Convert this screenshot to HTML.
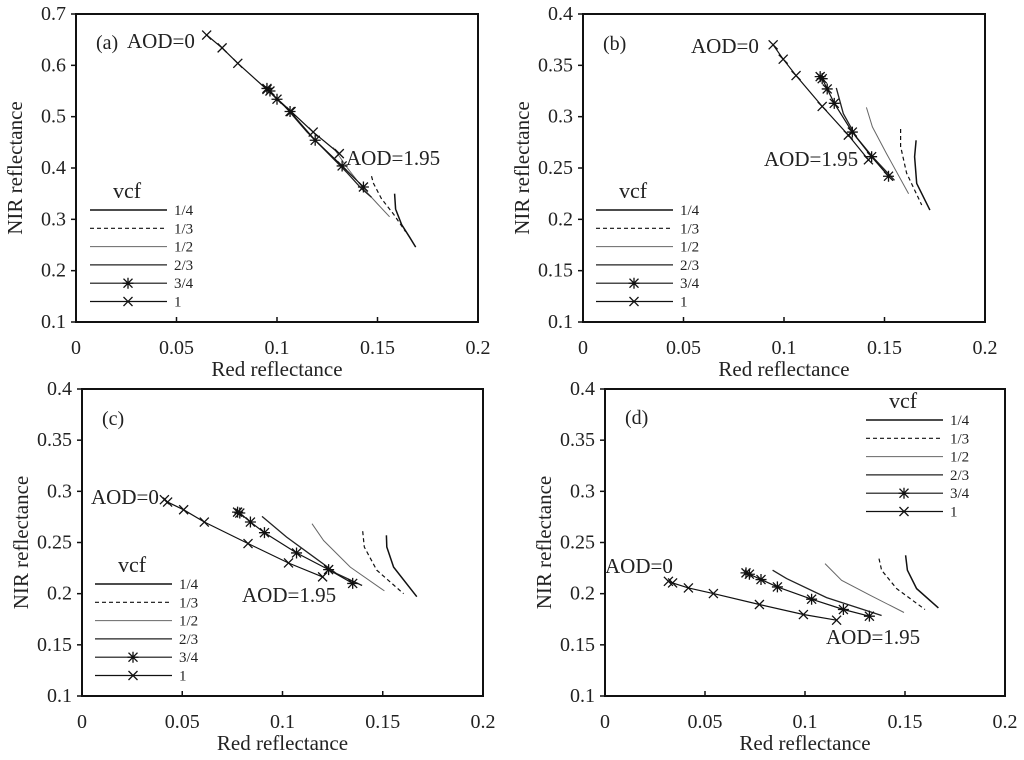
<!DOCTYPE html>
<html><head><meta charset="utf-8"><style>
body{margin:0;background:#fff;}
svg{display:block;font-family:"Liberation Serif",serif;}
</style></head><body>
<svg id="fig" width="1024" height="760" viewBox="0 0 1024 760"></svg>
<script>
// ---------- data (Red reflectance, NIR reflectance) ----------
const vcfLabels = ["1/4","1/3","1/2","2/3","3/4","1"];
const xTicks = [0,0.05,0.1,0.15,0.2];
const xTickLabels = ["0","0.05","0.1","0.15","0.2"];
const yTicksA = [0.1,0.2,0.3,0.4,0.5,0.6,0.7];
const yTicksB = [0.1,0.15,0.2,0.25,0.3,0.35,0.4];
const yTickLabelsB = ["0.1","0.15","0.2","0.25","0.3","0.35","0.4"];

// panel a
const a_v14 = [[0.1585,0.35],[0.159,0.32],[0.162,0.29],[0.166,0.265],[0.169,0.246]];
const a_v13 = [[0.147,0.384],[0.148,0.37],[0.152,0.34],[0.158,0.31],[0.164,0.276]];
const a_v12 = [[0.128,0.44],[0.135,0.40],[0.143,0.36],[0.150,0.33],[0.156,0.305]];
const a_v23 = [[0.104,0.52],[0.115,0.47],[0.125,0.43],[0.135,0.39],[0.142,0.36],[0.147,0.343]];
const a_v34 = [[0.095,0.555],[0.0965,0.55],[0.100,0.534],[0.1065,0.51],[0.119,0.454],[0.1324,0.404],[0.143,0.363]];
const a_v1  = [[0.065,0.659],[0.0727,0.634],[0.0805,0.604],[0.095,0.553],[0.107,0.51],[0.118,0.47],[0.131,0.428]];
// panel b
const b_v14 = [[0.1657,0.277],[0.165,0.261],[0.166,0.235],[0.1726,0.209]];
const b_v13 = [[0.158,0.288],[0.158,0.271],[0.161,0.245],[0.1685,0.214]];
const b_v12 = [[0.141,0.309],[0.144,0.290],[0.151,0.264],[0.162,0.225]];
const b_v23 = [[0.126,0.328],[0.1295,0.303],[0.136,0.280],[0.144,0.261],[0.155,0.238]];
const b_v34 = [[0.118,0.339],[0.119,0.337],[0.1215,0.327],[0.125,0.313],[0.134,0.285],[0.1436,0.261],[0.152,0.242]];
const b_v1  = [[0.0946,0.370],[0.0996,0.356],[0.106,0.340],[0.119,0.310],[0.132,0.282],[0.142,0.258]];
// panel c
const c_v14 = [[0.1518,0.257],[0.152,0.2456],[0.1554,0.226],[0.167,0.197]];
const c_v13 = [[0.140,0.261],[0.1408,0.2456],[0.147,0.223],[0.1604,0.2]];
const c_v12 = [[0.1147,0.2684],[0.1205,0.252],[0.1338,0.226],[0.1508,0.2027]];
const c_v23 = [[0.0898,0.2755],[0.102,0.2554],[0.1155,0.236],[0.127,0.2196],[0.1397,0.208]];
const c_v34 = [[0.0776,0.2797],[0.0787,0.2788],[0.084,0.270],[0.091,0.2596],[0.107,0.2398],[0.123,0.2235],[0.135,0.210]];
const c_v1  = [[0.0411,0.2918],[0.0427,0.2895],[0.0507,0.282],[0.061,0.270],[0.0828,0.249],[0.103,0.230],[0.120,0.2164]];
// panel d
const d_v14 = [[0.1503,0.2375],[0.1512,0.2229],[0.1558,0.205],[0.1667,0.1861]];
const d_v13 = [[0.137,0.2343],[0.1383,0.2229],[0.1458,0.205],[0.16,0.1845]];
const d_v12 = [[0.11,0.2294],[0.1183,0.2131],[0.1325,0.1985],[0.1495,0.1816]];
const d_v23 = [[0.0838,0.2229],[0.0908,0.2147],[0.1108,0.1962],[0.1383,0.1787]];
const d_v34 = [[0.0705,0.2203],[0.0722,0.219],[0.078,0.2138],[0.0862,0.2066],[0.1033,0.1946],[0.1192,0.1845],[0.1322,0.178]];
const d_v1  = [[0.0317,0.2121],[0.0338,0.2105],[0.0417,0.2056],[0.0542,0.2001],[0.0772,0.1894],[0.0992,0.1796],[0.1158,0.1741]];

const NS="http://www.w3.org/2000/svg";
const svg=document.getElementById('fig');
function mk(tag,attrs,parent){const e=document.createElementNS(NS,tag);for(const k in attrs)e.setAttribute(k,attrs[k]);(parent||svg).appendChild(e);return e;}

const styles=[
 {stroke:"#111",w:1.5,dash:null},
 {stroke:"#111",w:1.2,dash:"4,3"},
 {stroke:"#666",w:1,dash:null},
 {stroke:"#222",w:1.3,dash:null},
 {stroke:"#111",w:1.2,dash:null,marker:"star"},
 {stroke:"#111",w:1.2,dash:null,marker:"x"}
];
function marker(g,type,px,py){
  const s=4.5;
  let p=`M${px-s},${py-s}L${px+s},${py+s}M${px-s},${py+s}L${px+s},${py-s}`;
  if(type==="star") p+=`M${px},${py-s-1}L${px},${py+s+1}M${px-s-1},${py}L${px+s+1},${py}`;
  const m=mk('path',{d:p,stroke:"#111","stroke-width":1.3,fill:"none"},g);
  
  
}

function panel(cfg){
  const g=mk('g',{});
  
  
  const X=v=>cfg.L+(v-0)/0.2*(cfg.R-cfg.L);
  const Y=v=>cfg.B-(v-cfg.ymin)/(cfg.ymax-cfg.ymin)*(cfg.B-cfg.T);
  const fr=mk('rect',{x:cfg.L,y:cfg.T,width:cfg.R-cfg.L,height:cfg.B-cfg.T,fill:"none",stroke:"#111","stroke-width":2},g);
  
  
  xTicks.forEach((t,i)=>{
    const x=X(t);
    mk('line',{x1:x,x2:x,y1:cfg.B,y2:cfg.B-5,stroke:"#111","stroke-width":1.5},g);
    const tx=mk('text',{x:x,y:cfg.B+32,"text-anchor":"middle","font-size":20,fill:"#222"},g);
    tx.textContent=xTickLabels[i];
    
    
  });
  cfg.yt.forEach((t,i)=>{
    const y=Y(t);
    mk('line',{x1:cfg.L-5,x2:cfg.L,y1:y,y2:y,stroke:"#111","stroke-width":1.5},g);
    const tx=mk('text',{x:cfg.L-10,y:y+6,"text-anchor":"end","font-size":20,fill:"#222"},g);
    tx.textContent=cfg.ytl[i];
    
    
  });
  const xt=mk('text',{x:(cfg.L+cfg.R)/2,y:cfg.B+54,"text-anchor":"middle","font-size":21,fill:"#222"},g);
  xt.textContent="Red reflectance";
  
  
  const yx=cfg.L-54, yy=(cfg.T+cfg.B)/2;
  const yt=mk('text',{x:yx,y:yy,"text-anchor":"middle","font-size":21,fill:"#222",transform:`rotate(-90 ${yx} ${yy})`},g);
  yt.textContent="NIR reflectance";
  
  
  cfg.series.forEach((s,i)=>{
    const st=styles[i];
    const d=s.map((p,j)=>(j?"L":"M")+X(p[0]).toFixed(1)+","+Y(p[1]).toFixed(1)).join("");
    const pa=mk('path',{d:d,fill:"none",stroke:st.stroke,"stroke-width":st.w},g);
    if(st.dash)pa.setAttribute('stroke-dasharray',st.dash);
    
    
    if(st.marker) s.forEach(p=>marker(g,st.marker,X(p[0]),Y(p[1])));
  });
  // legend
  const lg=mk('g',{},g);
  
  
  const vt=mk('text',{x:cfg.lx+37,y:cfg.ly-12,"text-anchor":"middle","font-size":22,fill:"#222"},lg);
  vt.textContent="vcf";
  vcfLabels.forEach((lab,i)=>{
    const st=styles[i];const y=cfg.ly+i*18.3;
    const ln=mk('line',{x1:cfg.lx,x2:cfg.lx+77,y1:y,y2:y,stroke:st.stroke,"stroke-width":st.w},lg);
    if(st.dash)ln.setAttribute('stroke-dasharray',st.dash);
    
    
    if(st.marker)marker(lg,st.marker,cfg.lx+38,y);
    const t=mk('text',{x:cfg.lx+84,y:y+5,"font-size":15,fill:"#222"},lg);
    t.textContent=lab;
  });
  const pl=mk('text',{x:cfg.pl[0],y:cfg.pl[1],"font-size":20,fill:"#222"},g);
  pl.textContent="("+cfg.id+")";
  
  
  const a0=mk('text',{x:cfg.a0[0],y:cfg.a0[1],"font-size":21,fill:"#222"},g);
  a0.textContent="AOD=0";
  
  
  const a1=mk('text',{x:cfg.a1[0],y:cfg.a1[1],"font-size":21,fill:"#222"},g);
  a1.textContent="AOD=1.95";
  
  
}

panel({id:"a",L:76,R:478,T:14,B:322,ymin:0.1,ymax:0.7,yt:yTicksA,ytl:["0.1","0.2","0.3","0.4","0.5","0.6","0.7"],
  series:[a_v14,a_v13,a_v12,a_v23,a_v34,a_v1],lx:90,ly:210,pl:[96,49],a0:[127,48],a1:[346,165]});
panel({id:"b",L:583,R:985,T:14,B:322,ymin:0.1,ymax:0.4,yt:yTicksB,ytl:yTickLabelsB,
  series:[b_v14,b_v13,b_v12,b_v23,b_v34,b_v1],lx:596,ly:210,pl:[603,50],a0:[691,53],a1:[764,166]});
panel({id:"c",L:82,R:483,T:389,B:696,ymin:0.1,ymax:0.4,yt:yTicksB,ytl:yTickLabelsB,
  series:[c_v14,c_v13,c_v12,c_v23,c_v34,c_v1],lx:95,ly:584,pl:[102,425],a0:[91,504],a1:[242,602]});
panel({id:"d",L:605,R:1005,T:389,B:696,ymin:0.1,ymax:0.4,yt:yTicksB,ytl:yTickLabelsB,
  series:[d_v14,d_v13,d_v12,d_v23,d_v34,d_v1],lx:866,ly:420,pl:[625,424],a0:[605,573],a1:[826,644]});
</script>
</body></html>
